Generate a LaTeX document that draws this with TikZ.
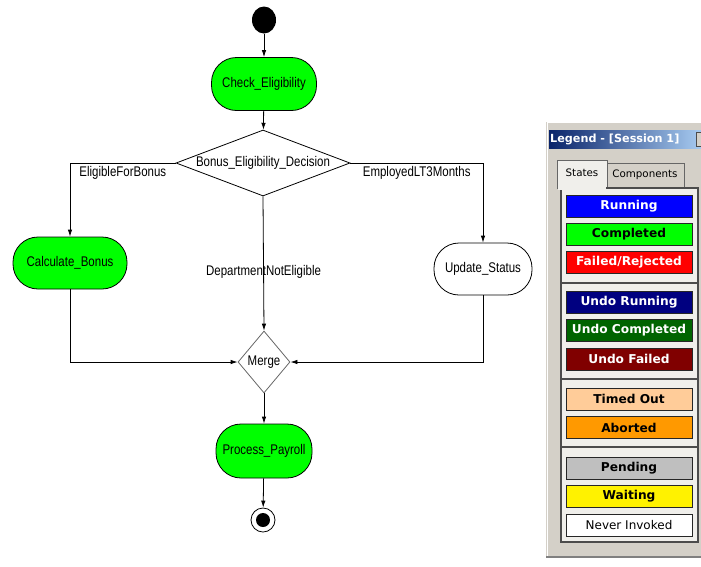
\documentclass[tikz,border=0pt]{standalone}
\usepackage{fontspec}
\usetikzlibrary{shapes.geometric, arrows.meta}
\newfontfamily\flowfont[FakeStretch=0.82]{Liberation Sans}
\newfontfamily\legfont{DejaVu Sans}
\definecolor{actgreen}{HTML}{00FF00}
\definecolor{wingray}{HTML}{D4D0C8}
\definecolor{tabpage}{HTML}{F0EFEB}
\definecolor{titledark}{HTML}{0A246A}
\definecolor{titlelight}{HTML}{A6CAF0}
\definecolor{undoblue}{HTML}{000080}
\definecolor{undogreen}{HTML}{006400}
\definecolor{undored}{HTML}{800000}
\definecolor{timedout}{HTML}{FFCC99}
\definecolor{aborted}{HTML}{FF9900}

\begin{document}
\begin{tikzpicture}[x=1pt, y=-1pt,
  activity/.style={rectangle, rounded corners=25pt, draw, fill=actgreen, line width=0.8pt, inner sep=0pt, font=\flowfont\fontsize{14}{16}\selectfont},
  choice/.style={diamond, draw, line width=0.8pt, inner sep=0pt, font=\flowfont\fontsize{14}{16}\selectfont},
  flow/.style={-{Latex[length=7pt,width=4.5pt]}, line width=0.8pt},
  guard/.style={font=\flowfont\fontsize{14}{16}\selectfont},
  legbox/.style={rectangle, draw=black!85, line width=1pt, minimum width=126pt, minimum height=22pt, inner sep=0pt, font=\legfont\bfseries\fontsize{12.2}{14}\selectfont},
  legline/.style={draw=black!70, line width=1.2pt}]
\useasboundingbox (0,0) rectangle (701,566);

\node[ellipse, fill=black, minimum width=24pt, minimum height=27pt, inner sep=0pt] (start) at (264,20) {};
\node[activity, minimum width=105pt, minimum height=53pt] (check) at (264,84) {Check\_Eligibility};
\node[choice, minimum width=174pt, minimum height=66pt, label=center:{\flowfont\fontsize{14}{16}\selectfont Bonus\_Eligibility\_Decision}] (bonusdec) at (263,163) {};
\node[activity, minimum width=114pt, minimum height=52pt] (calc) at (70,263) {Calculate\_Bonus};
\node[activity, fill=white, minimum width=98pt, minimum height=52pt] (update) at (483,269) {Update\_Status};
\node[choice, draw=black!60, minimum width=52pt, minimum height=62pt, label=center:{\flowfont\fontsize{14}{16}\selectfont Merge}] (merge) at (264,362) {};
\node[activity, minimum width=96pt, minimum height=54pt] (payroll) at (264,451) {Process\_Payroll};
\node[circle, draw, line width=0.8pt, minimum size=24pt, inner sep=0pt, path picture={\fill (path picture bounding box.center) circle (7pt);}] (stop) at (263,520) {};

\draw[flow] (start) -- (check);
\draw[flow] (check) -- (bonusdec);
\draw[flow] (bonusdec.west) -| node[guard, pos=0.25, below]{EligibleForBonus} (calc);
\draw[flow] (bonusdec.east) -| node[guard, pos=0.25, below]{EmployedLT3Months} (update);
\draw[flow] (bonusdec.south) -- node[guard, pos=0.56]{DepartmentNotEligible} (merge.north);
\draw[flow] (calc.south) |- (merge.west);
\draw[flow] (update.south) |- (merge.east);
\draw[flow] (merge) -- (payroll);
\draw[flow] (payroll) -- (stop);

\fill[wingray] (546,122) rectangle (701,558);
\draw[white, line width=1pt] (547,558) -- (547,122) -- (701,122);
\draw[black!50, line width=1.5pt] (546,557) -- (701,557);
\shade[left color=titledark, right color=titlelight] (549,130) rectangle (701,148);
\node[anchor=west, inner sep=0pt, text=white, font=\legfont\bfseries\fontsize{11.2}{13}\selectfont] (legtitle) at (550,139) {Legend - [Session 1]};
\draw[fill=wingray, draw=black!70] (696,132) rectangle (704,146);

\draw[fill=wingray, draw=black!60, line width=1pt] (607,189) -- (607,163) -- (684,163) -- (684,189);
\draw[fill=tabpage, draw=black!60, line width=1pt] (557,189) -- (557,160) -- (607,160) -- (607,189);
\node[font=\legfont\fontsize{10.3}{12}\selectfont] (states) at (582,173) {States};
\node[font=\legfont\fontsize{10.3}{12}\selectfont] (components) at (645,175) {Components};

\draw[fill=tabpage, legline] (561,188) rectangle (698,542);
\fill[tabpage] (558,186) rectangle (606,189.5);
\draw[legline] (561,283) -- (698,283);
\draw[legline] (561,379) -- (698,379);
\draw[legline] (561,447) -- (698,447);

\node[legbox, fill=blue, text=white] (running) at (629,206) {Running};
\node[legbox, fill=actgreen] (completed) at (629,234) {Completed};
\node[legbox, fill=red, text=white] (failed) at (629,262.5) {Failed/Rejected};
\node[legbox, fill=undoblue, text=white] (undorunning) at (629,302) {Undo Running};
\node[legbox, fill=undogreen, text=white] (undocompleted) at (629,330.5) {Undo Completed};
\node[legbox, fill=undored, text=white] (undofailed) at (629,359) {Undo Failed};
\node[legbox, fill=timedout] (timedout) at (629,399) {Timed Out};
\node[legbox, fill=aborted] (aborted) at (629,427.5) {Aborted};
\node[legbox, fill=black!25] (pending) at (629,468) {Pending};
\node[legbox, fill=yellow] (waiting) at (629,496.5) {Waiting};
\node[legbox, fill=white, font=\legfont\fontsize{12}{14}\selectfont] (never) at (629,525) {Never Invoked};
\end{tikzpicture}
\end{document}
